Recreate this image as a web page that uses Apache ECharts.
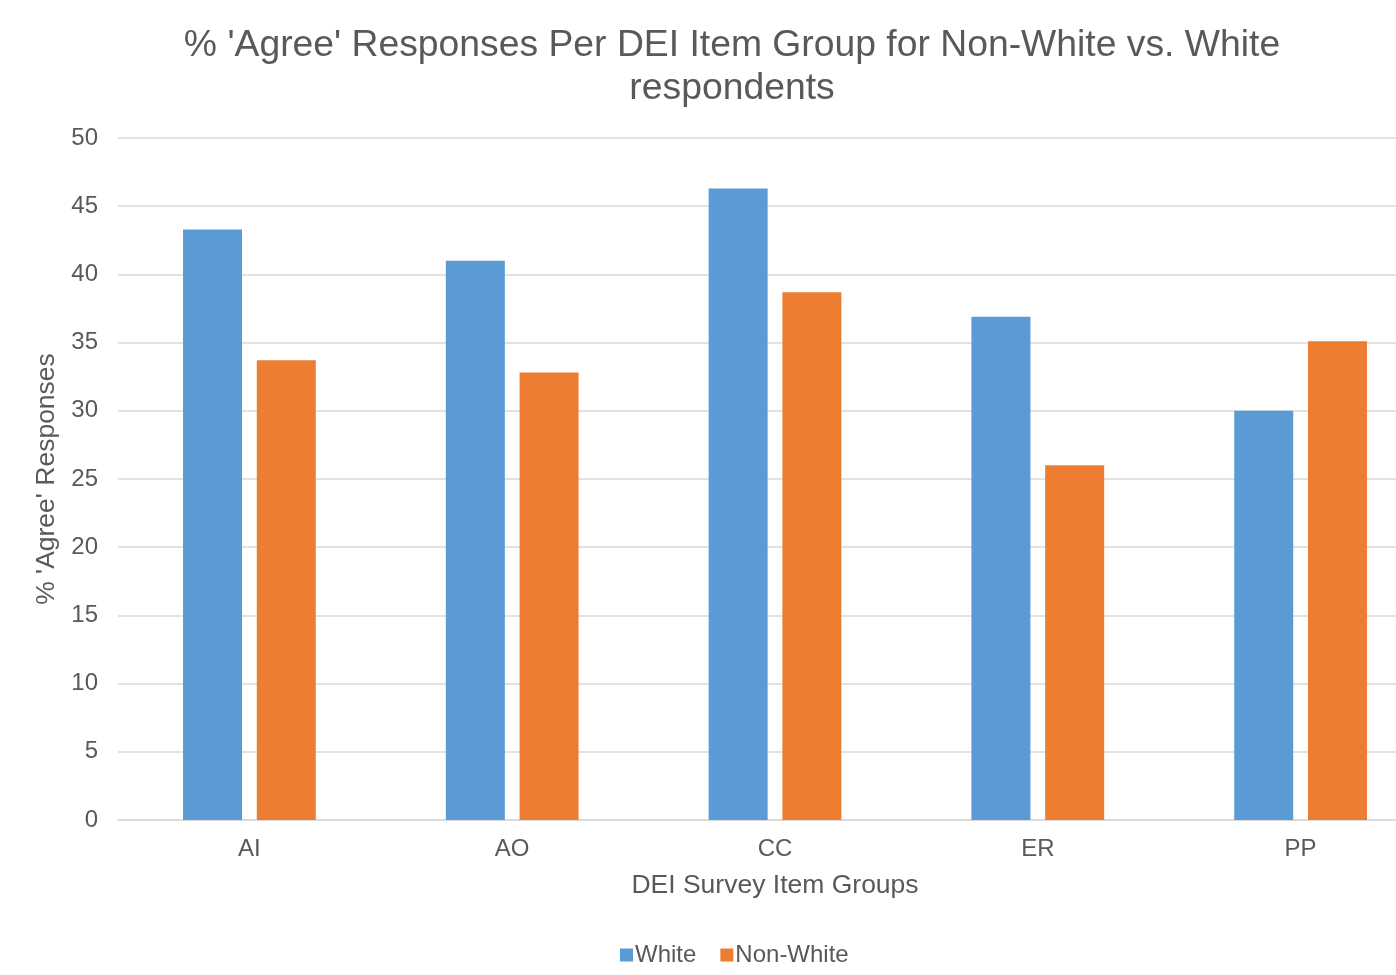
<!DOCTYPE html>
<html>
<head>
<meta charset="utf-8">
<script src="https://cdn.jsdelivr.net/npm/echarts@6/dist/echarts.min.js"></script>
<style>
html,body{margin:0;padding:0;background:#fff;}
#chart{width:1396px;height:975px;}
</style>
</head>
<body>
<div id="chart"></div>
<script>
const categories = ['AI', 'AO', 'CC', 'ER', 'PP'];
const whiteValues = [43.3, 41.0, 46.3, 36.9, 30.0];
const nonWhiteValues = [33.7, 32.8, 38.7, 26.0, 35.1];
const seriesNames = ['White', 'Non-White'];
const yTicks = [0, 5, 10, 15, 20, 25, 30, 35, 40, 45, 50];

const font = 'Liberation Sans, Arial, sans-serif';
const txt = '#595959';
const chart = echarts.init(document.getElementById('chart'), null, {renderer: 'canvas'});
chart.setOption({
  animation: false,
  backgroundColor: '#fff',
  title: {
    text: "% 'Agree' Responses Per DEI Item Group for Non-White vs. White\nrespondents",
    left: 727, top: 19, textAlign: 'center',
    textStyle: {fontFamily: font, fontSize: 37.3, fontWeight: 'normal', color: txt, lineHeight: 43}
  },
  legend: {
    data: seriesNames,
    bottom: 3, left: 615,
    itemWidth: 13, itemHeight: 13, itemGap: 24,
    icon: 'rect',
    textStyle: {fontFamily: font, fontSize: 24, color: txt, padding: [0, 0, 0, -3]}
  },
  grid: {left: 118, top: 138, right: -36, height: 682, containLabel: false, outerBoundsMode: 'none'},
  xAxis: {
    type: 'category', data: categories,
    name: 'DEI Survey Item Groups', nameLocation: 'middle', nameGap: 52,
    nameTextStyle: {fontFamily: font, fontSize: 26.5, color: txt},
    axisLine: {lineStyle: {color: '#d9d9d9', width: 1.5}},
    axisTick: {show: false},
    axisLabel: {fontFamily: font, fontSize: 24, color: txt, margin: 17}
  },
  yAxis: {
    type: 'value', min: yTicks[0], max: yTicks[yTicks.length - 1], interval: 5,
    name: "% 'Agree' Responses", nameLocation: 'middle', nameGap: 58, nameRotate: 90,
    nameTextStyle: {fontFamily: font, fontSize: 26.5, color: txt},
    axisLine: {show: false}, axisTick: {show: false},
    axisLabel: {fontFamily: font, fontSize: 24, color: txt, margin: 20},
    splitLine: {lineStyle: {color: '#d9d9d9', width: 1.5}}
  },
  series: [
    {name: seriesNames[0], type: 'bar', data: whiteValues, barWidth: 59, barGap: '25%',
     itemStyle: {color: '#5B9BD5'}},
    {name: seriesNames[1], type: 'bar', data: nonWhiteValues, barWidth: 59, barGap: '25%',
     itemStyle: {color: '#ED7D31'}}
  ]
});
</script>
</body>
</html>
